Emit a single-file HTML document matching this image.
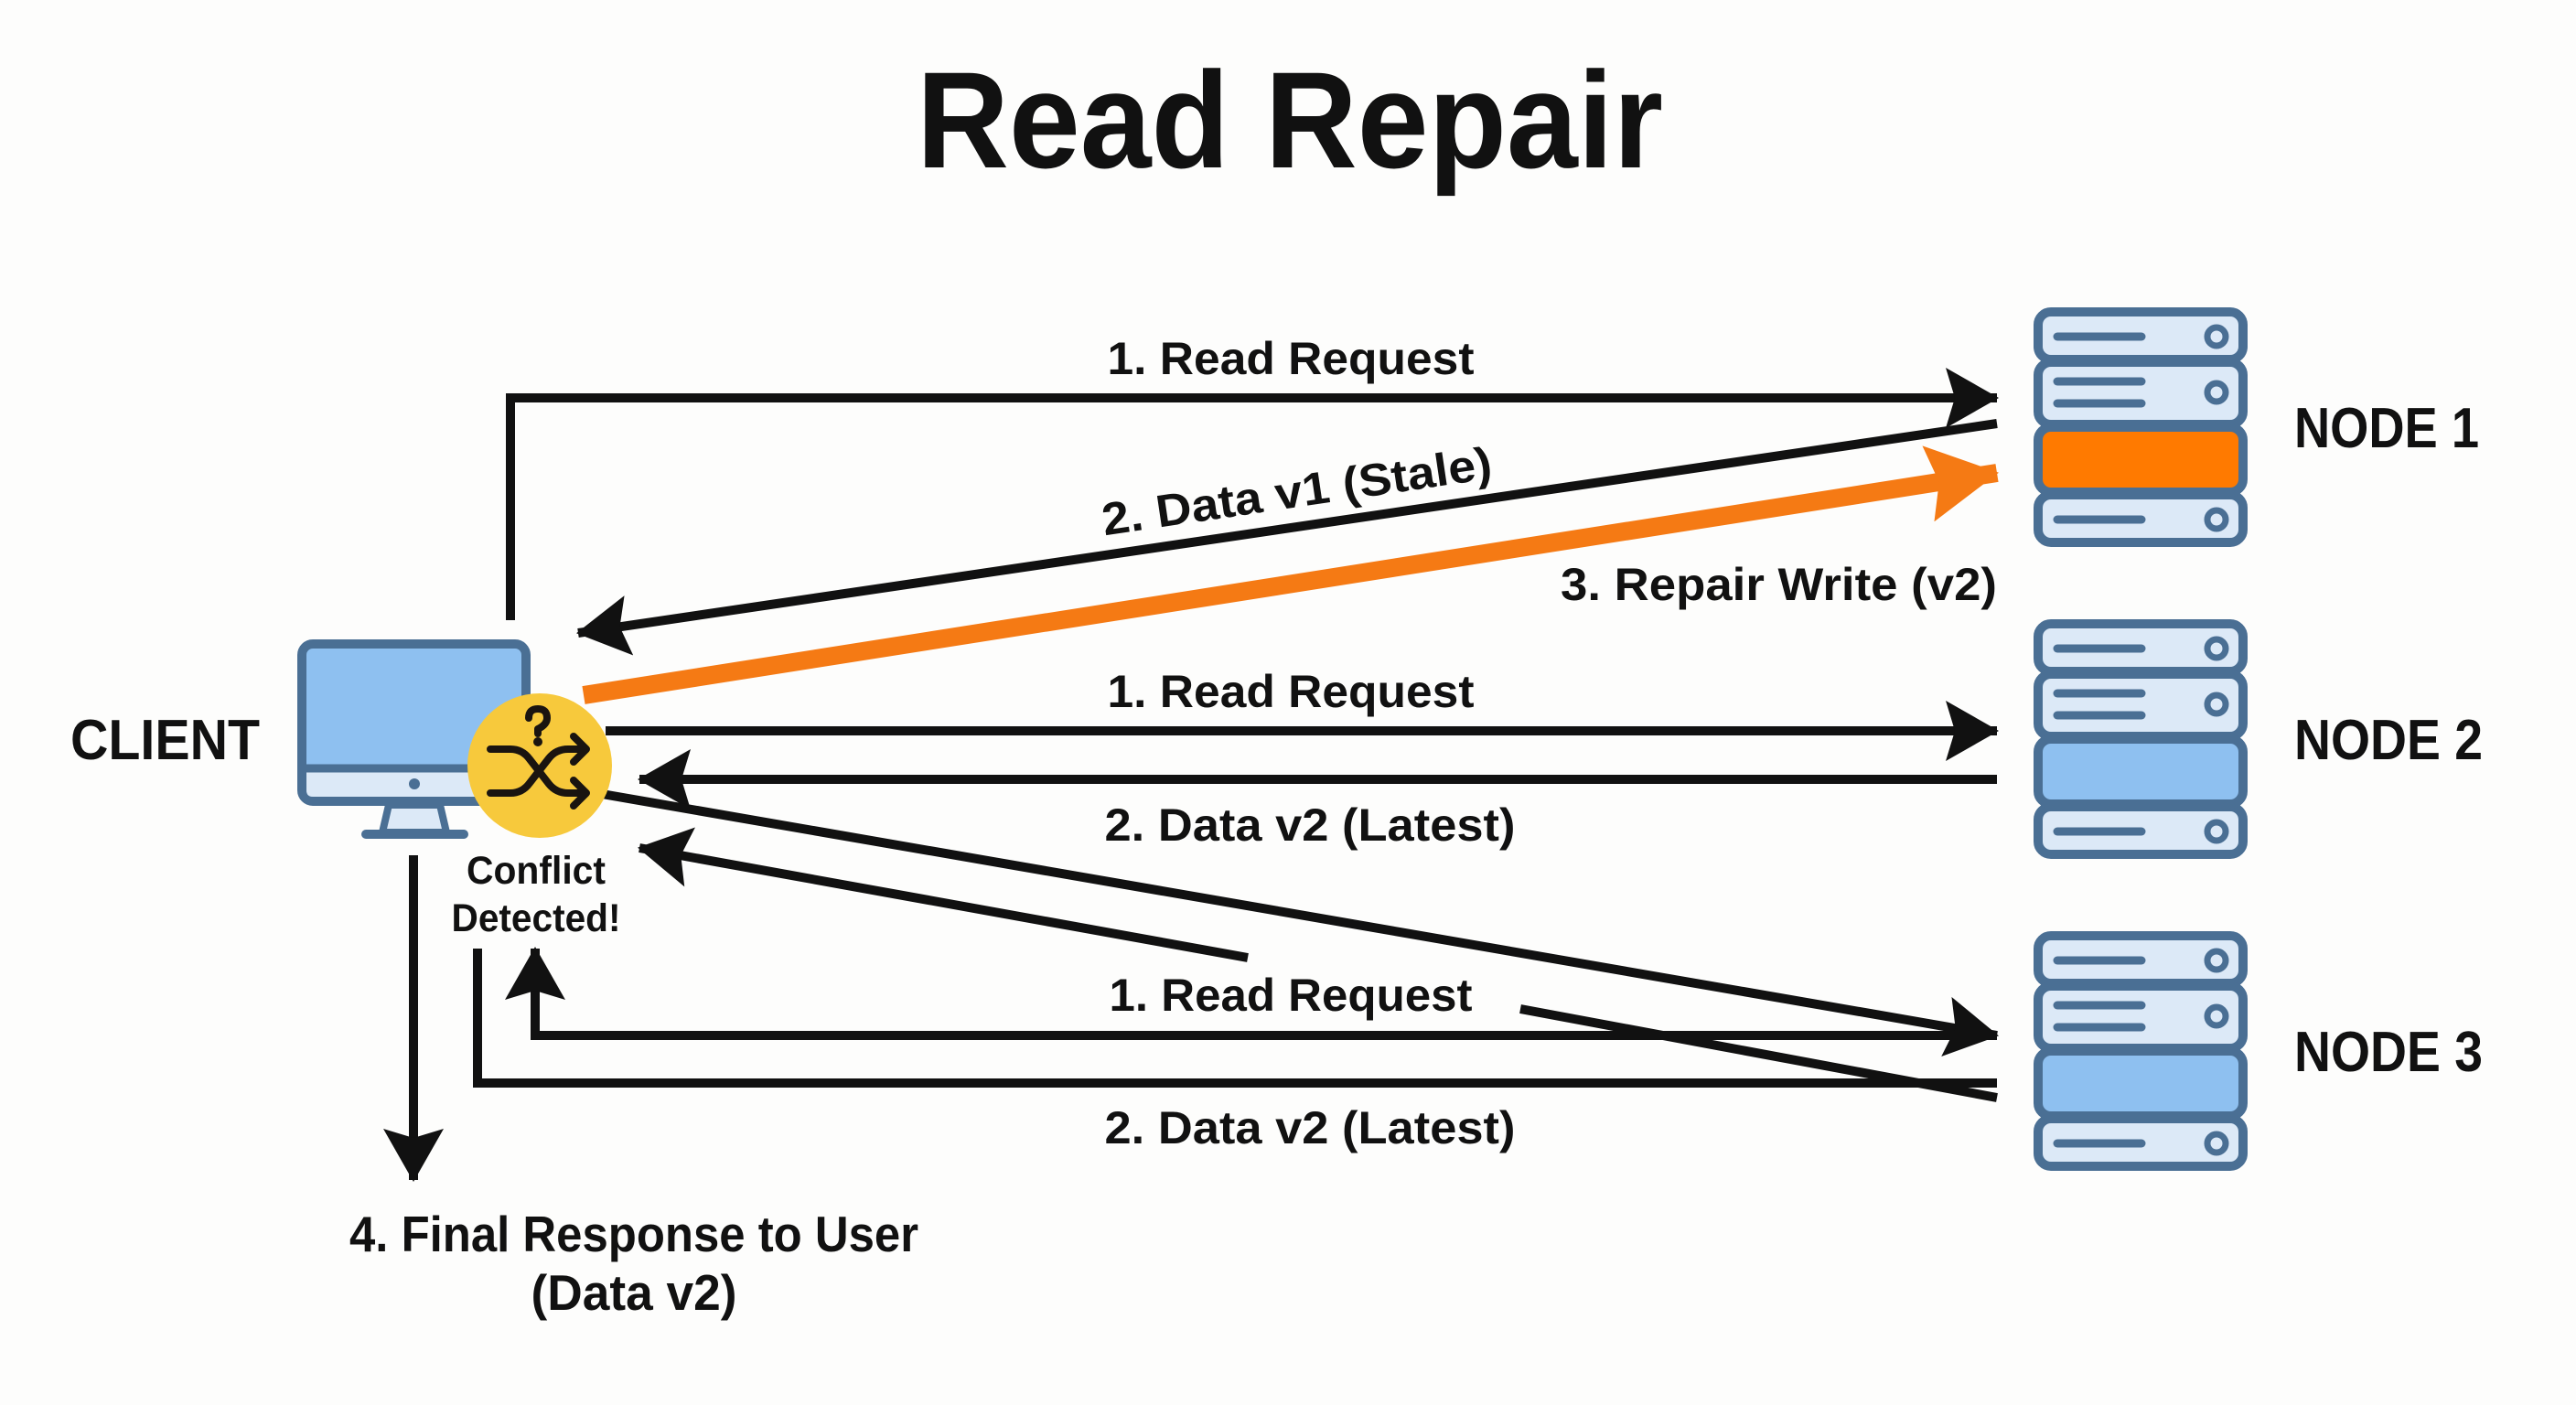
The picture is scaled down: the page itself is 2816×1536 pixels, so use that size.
<!DOCTYPE html>
<html><head><meta charset="utf-8"><style>
html,body{margin:0;padding:0;background:#fdfdfc;}
svg{display:block;}
text{font-family:"Liberation Sans",sans-serif;font-weight:bold;fill:#111;}
</style></head><body>
<svg width="2816" height="1536" viewBox="0 0 2816 1536" xmlns="http://www.w3.org/2000/svg">
<defs>
<marker id="ah" markerUnits="userSpaceOnUse" markerWidth="60" markerHeight="66" refX="56" refY="33" orient="auto">
<path d="M0,0 L58,33 L0,66 L10,33 Z" fill="#111"/>
</marker>
<marker id="ao" markerUnits="userSpaceOnUse" markerWidth="80" markerHeight="84" refX="76" refY="42" orient="auto">
<path d="M0,0 L78,42 L0,84 L12,42 Z" fill="#f57a14"/>
</marker>
<g id="srv">
<rect x="2228" y="0" width="224" height="52" rx="14" fill="#dce9f7" stroke="#4a6f94" stroke-width="10"/>
<rect x="2228" y="55" width="224" height="68" rx="14" fill="#dce9f7" stroke="#4a6f94" stroke-width="10"/>
<rect x="2228" y="200" width="224" height="52" rx="14" fill="#dce9f7" stroke="#4a6f94" stroke-width="10"/>
<line x1="2249" y1="27" x2="2341" y2="27" stroke="#4a6f94" stroke-width="9" stroke-linecap="round"/>
<line x1="2249" y1="76" x2="2341" y2="76" stroke="#4a6f94" stroke-width="9" stroke-linecap="round"/>
<line x1="2249" y1="100" x2="2341" y2="100" stroke="#4a6f94" stroke-width="9" stroke-linecap="round"/>
<line x1="2249" y1="227" x2="2341" y2="227" stroke="#4a6f94" stroke-width="9" stroke-linecap="round"/>
<circle cx="2423" cy="27" r="10" fill="#dce9f7" stroke="#4a6f94" stroke-width="7"/>
<circle cx="2423" cy="88" r="10" fill="#dce9f7" stroke="#4a6f94" stroke-width="7"/>
<circle cx="2423" cy="227" r="10" fill="#dce9f7" stroke="#4a6f94" stroke-width="7"/>
</g>
</defs>

<text x="1410" y="183" font-size="150" text-anchor="middle" textLength="816" lengthAdjust="spacingAndGlyphs">Read Repair</text>

<g transform="translate(0,341)"><use href="#srv"/><rect x="2228" y="126" width="224" height="71" rx="14" fill="#ff7a00" stroke="#4a6f94" stroke-width="10"/></g>
<g transform="translate(0,682)"><use href="#srv"/><rect x="2228" y="126" width="224" height="71" rx="14" fill="#8ec0f0" stroke="#4a6f94" stroke-width="10"/></g>
<g transform="translate(0,1023)"><use href="#srv"/><rect x="2228" y="126" width="224" height="71" rx="14" fill="#8ec0f0" stroke="#4a6f94" stroke-width="10"/></g>

<text x="2508" y="489" font-size="62" textLength="202" lengthAdjust="spacingAndGlyphs">NODE 1</text>
<text x="2508" y="830" font-size="62" textLength="206" lengthAdjust="spacingAndGlyphs">NODE 2</text>
<text x="2508" y="1171" font-size="62" textLength="206" lengthAdjust="spacingAndGlyphs">NODE 3</text>
<text x="77" y="830" font-size="62" textLength="207" lengthAdjust="spacingAndGlyphs">CLIENT</text>

<rect x="330" y="704" width="245" height="172" rx="12" fill="#8ec0f0" stroke="#4a6f94" stroke-width="10"/>
<path d="M335,840 L570,840 L570,864 Q570,871 563,871 L342,871 Q335,871 335,864 Z" fill="#dce9f7"/>
<line x1="330" y1="840" x2="575" y2="840" stroke="#4a6f94" stroke-width="9"/>
<circle cx="453" cy="857" r="6" fill="#4a6f94"/>
<path d="M425,880 L481,880 L488,910 L418,910 Z" fill="#dce9f7" stroke="#4a6f94" stroke-width="8"/>
<line x1="400" y1="912" x2="507" y2="912" stroke="#4a6f94" stroke-width="10" stroke-linecap="round"/>

<g stroke="#111" stroke-width="10" fill="none">
<path d="M558,678 L558,435 L2183,435" marker-end="url(#ah)"/>
<line x1="2183" y1="463" x2="632" y2="692" marker-end="url(#ah)"/>
<line x1="662" y1="799" x2="2183" y2="799" marker-end="url(#ah)"/>
<line x1="2183" y1="852" x2="699" y2="852" marker-end="url(#ah)"/>
<line x1="658" y1="868" x2="2183" y2="1132" marker-end="url(#ah)"/>
<line x1="2183" y1="1200" x2="1662" y2="1103"/>
<line x1="1364" y1="1047" x2="699" y2="927" marker-end="url(#ah)"/>
<path d="M2183,1132 L585,1132 L585,1037" marker-end="url(#ah)"/>
<path d="M522,1037 L522,1184 L2183,1184"/>
<line x1="452" y1="935" x2="452" y2="1290" marker-end="url(#ah)"/>
</g>
<line x1="638" y1="760" x2="2183" y2="517" stroke="#f57a14" stroke-width="20" marker-end="url(#ao)"/>

<circle cx="590" cy="837" r="79" fill="#f7c93c"/>
<g stroke="#1a1410" stroke-width="8" fill="none" stroke-linecap="round" stroke-linejoin="round">
<path d="M536,819 L558,819 Q571,819 579,830 L600,857 Q608,867 621,867 L640,867"/>
<path d="M536,867 L558,867 Q571,867 579,856 L600,829 Q608,819 621,819 L640,819"/>
<path d="M627,805 L641,819 L627,833"/>
<path d="M627,853 L641,867 L627,881"/>
<path d="M578,785 Q578,775 588,775 Q598,775 598,785 Q598,792 588,797 L588,802"/>
</g>
<circle cx="588" cy="811" r="5" fill="#1a1410"/>

<text x="1411" y="409" font-size="50" text-anchor="middle" textLength="401" lengthAdjust="spacingAndGlyphs">1. Read Request</text>
<text transform="translate(1420,554) rotate(-8.4)" x="0" y="0" font-size="50" text-anchor="middle" textLength="430" lengthAdjust="spacingAndGlyphs">2. Data v1 (Stale)</text>
<text x="2183" y="656" font-size="50" text-anchor="end" textLength="477" lengthAdjust="spacingAndGlyphs">3. Repair Write (v2)</text>
<text x="1411" y="773" font-size="50" text-anchor="middle" textLength="401" lengthAdjust="spacingAndGlyphs">1. Read Request</text>
<text x="1432" y="919" font-size="50" text-anchor="middle" textLength="449" lengthAdjust="spacingAndGlyphs">2. Data v2 (Latest)</text>
<text x="1411" y="1105" font-size="50" text-anchor="middle" textLength="397" lengthAdjust="spacingAndGlyphs">1. Read Request</text>
<text x="1432" y="1250" font-size="50" text-anchor="middle" textLength="449" lengthAdjust="spacingAndGlyphs">2. Data v2 (Latest)</text>
<text x="586" y="966" font-size="43" text-anchor="middle" textLength="152" lengthAdjust="spacingAndGlyphs">Conflict</text>
<text x="586" y="1018" font-size="43" text-anchor="middle" textLength="185" lengthAdjust="spacingAndGlyphs">Detected!</text>
<text x="693" y="1368" font-size="55" text-anchor="middle" textLength="622" lengthAdjust="spacingAndGlyphs">4. Final Response to User</text>
<text x="693" y="1432" font-size="55" text-anchor="middle" textLength="225" lengthAdjust="spacingAndGlyphs">(Data v2)</text>
</svg>
</body></html>
